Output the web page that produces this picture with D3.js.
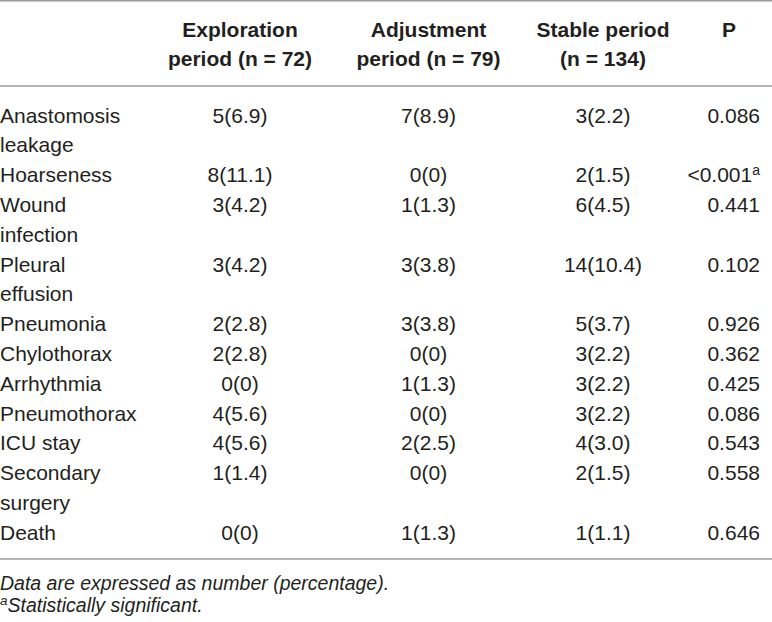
<!DOCTYPE html>
<html>
<head>
<meta charset="utf-8">
<script src="https://cdn.jsdelivr.net/npm/d3@7/dist/d3.min.js"></script>
<style>
  html, body { margin: 0; padding: 0; background: #fff; }
  svg { display: block; }
</style>
</head>
<body>
<svg id="chart" width="772" height="622"></svg>
<script>
// ---- data ----
const headerLines = [["Exploration", "period (n = 72)"], ["Adjustment", "period (n = 79)"], ["Stable period", "(n = 134)"], ["P"]];
const categories = ["Anastomosis leakage", "Hoarseness", "Wound infection", "Pleural effusion", "Pneumonia",
  "Chylothorax", "Arrhythmia", "Pneumothorax", "ICU stay", "Secondary surgery", "Death"];
const exploration = ["5(6.9)", "8(11.1)", "3(4.2)", "3(4.2)", "2(2.8)", "2(2.8)", "0(0)", "4(5.6)", "4(5.6)", "1(1.4)", "0(0)"];
const adjustment = ["7(8.9)", "0(0)", "1(1.3)", "3(3.8)", "3(3.8)", "0(0)", "1(1.3)", "0(0)", "2(2.5)", "0(0)", "1(1.3)"];
const stable = ["3(2.2)", "2(1.5)", "6(4.5)", "14(10.4)", "5(3.7)", "3(2.2)", "3(2.2)", "3(2.2)", "4(3.0)", "2(1.5)", "1(1.1)"];
const pValues = ["0.086", "<0.001", "0.441", "0.102", "0.926", "0.362", "0.425", "0.086", "0.543", "0.558", "0.646"];
const significant = [false, true, false, false, false, false, false, false, false, false, false];
const footnotes = ["Data are expressed as number (percentage).", "Statistically significant."];
const footnoteMarks = ["", "a"];

// ---- layout ----
const W = 772;
const svg = d3.select("#chart");
const textColor = "#231f20";
const ruleColor = "#9b9b9b";
const fontFamily = "'Liberation Sans', Arial, Helvetica, sans-serif";
const fontSize = 21;
const labelMaxWidth = 141;

const xCol = d3.scaleOrdinal().domain([0, 1, 2]).range([240, 428.5, 603]);
const xPRight = 760;
const xPHeader = 729;

// wrap category labels by measuring
const measurer = svg.append("text").attr("font-family", fontFamily).attr("font-size", fontSize);
function wrap(str) {
  const words = str.split(" ");
  const lines = [];
  let cur = "";
  words.forEach(w => {
    const test = cur ? cur + " " + w : w;
    measurer.text(test);
    if (measurer.node().getComputedTextLength() > labelMaxWidth && cur) {
      lines.push(cur);
      cur = w;
    } else cur = test;
  });
  if (cur) lines.push(cur);
  return lines;
}
const rows = categories.map((c, i) => ({
  label: wrap(c),
  vals: [exploration[i], adjustment[i], stable[i]],
  p: pValues[i],
  sig: significant[i]
}));
measurer.remove();

// cumulative line index per row
let acc = 0;
rows.forEach(r => { r.start = acc; acc += r.label.length; });

const yLine = d3.scaleLinear().domain([0, 1]).range([115, 144.8]);
const yHead = d3.scaleLinear().domain([0, 1]).range([29.5, 58.5]);

// rules
const rules = [0.7, 86, 559];
svg.selectAll("line.rule").data(rules).join("line")
  .attr("class", "rule")
  .attr("x1", 0).attr("x2", W)
  .attr("y1", d => d).attr("y2", d => d)
  .attr("stroke", ruleColor).attr("stroke-width", 1.6);

// header
const head = svg.append("g")
  .attr("font-family", fontFamily).attr("font-size", fontSize)
  .attr("font-weight", "bold").attr("fill", textColor).attr("text-anchor", "middle");
headerLines.forEach((lines, ci) => {
  const x = ci < 3 ? xCol(ci) : xPHeader;
  head.append("g").selectAll("text").data(lines).join("text")
    .attr("x", x).attr("y", (d, li) => yHead(li)).attr("dy", "0.36em")
    .text(d => d);
});

// body
const body = svg.append("g")
  .attr("font-family", fontFamily).attr("font-size", fontSize).attr("fill", textColor);

const rowG = body.selectAll("g.row").data(rows).join("g").attr("class", "row");

rowG.selectAll("text.label").data(r => r.label.map((t, li) => ({ t, line: r.start + li })))
  .join("text").attr("class", "label")
  .attr("x", 0).attr("y", d => yLine(d.line)).attr("dy", "0.36em")
  .text(d => d.t);

rowG.selectAll("text.val").data(r => r.vals.map((v, ci) => ({ v, ci, line: r.start })))
  .join("text").attr("class", "val")
  .attr("text-anchor", "middle")
  .attr("x", d => xCol(d.ci)).attr("y", d => yLine(d.line)).attr("dy", "0.36em")
  .text(d => d.v);

const pText = rowG.append("text")
  .attr("text-anchor", "end")
  .attr("x", xPRight).attr("y", r => yLine(r.start)).attr("dy", "0.36em");
pText.append("tspan").text(r => r.p);
pText.filter(r => r.sig).append("tspan")
  .attr("font-size", 14).attr("dy", -7).text("a");

// footnotes
const yFoot = d3.scaleLinear().domain([0, 1]).range([583, 612]);
const foot = svg.append("g")
  .attr("font-family", fontFamily).attr("font-size", 19.5)
  .attr("font-style", "italic").attr("fill", textColor);
footnotes.forEach((f, i) => {
  const t = foot.append("text").attr("x", 0).attr("y", yFoot(i)).attr("dy", "0.36em");
  if (footnoteMarks[i]) {
    t.append("tspan").attr("font-size", 13.5).attr("dy", -7).text(footnoteMarks[i]);
    t.append("tspan").attr("dy", 7).text(f);
  } else {
    t.append("tspan").text(f);
  }
});
</script>
</body>
</html>
